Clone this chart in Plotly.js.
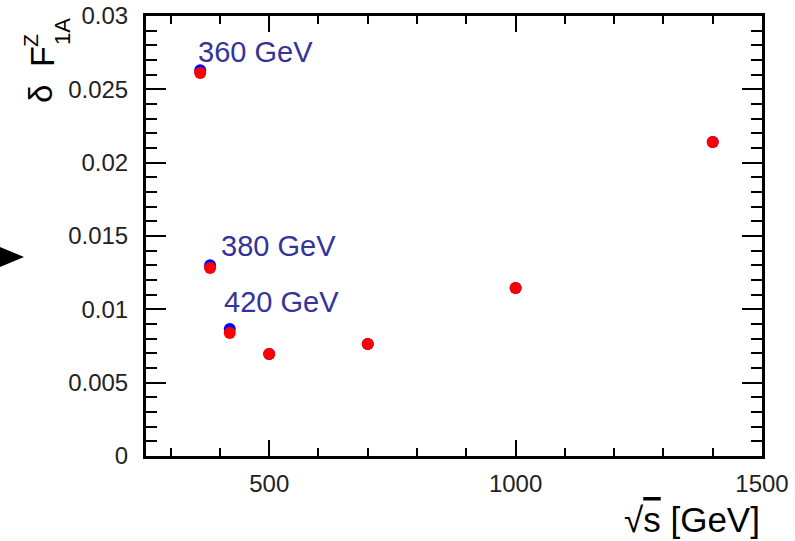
<!DOCTYPE html>
<html><head><meta charset="utf-8">
<script src="https://cdn.plot.ly/plotly-3.0.1.min.js"></script>
<style>html,body{margin:0;padding:0;background:#fff}</style>
</head><body>
<div id="chart" style="width:795px;height:541px"></div>
<script>
const energies = [360, 380, 420, 500, 700, 1000, 1400];
const blueVals = [0.0263, 0.0130, 0.00866, 0.00695, 0.00764, 0.01145, 0.02141];
const redVals  = [0.02611, 0.01282, 0.00839, 0.00695, 0.00764, 0.01145, 0.02141];
const labelTexts = ['360 GeV', '380 GeV', '420 GeV'];
const labelIdx = [0, 1, 2];
const labelShift = [[-4, 0], [9, 1], [-8, 9]];

const traces = [
  {x: energies, y: blueVals, mode: 'markers', type: 'scatter',
   marker: {color: '#0000ff', size: 12}, hoverinfo: 'skip'},
  {x: energies, y: redVals, mode: 'markers', type: 'scatter',
   marker: {color: '#ff0000', size: 12}, hoverinfo: 'skip'}
];

const ann = labelIdx.map((i, k) => ({
  x: energies[i], y: blueVals[i], xref: 'x', yref: 'y',
  text: labelTexts[k], showarrow: false, xanchor: 'left', yanchor: 'bottom',
  xshift: labelShift[k][0], yshift: labelShift[k][1],
  font: {family: 'Liberation Sans, Arial', size: 29, color: '#333399'}
}));

const W = 616, H = 440, L = 146, T = 16;
const px = v => (v - L) / W;
const py = v => (T + H - v) / H;
const titleFont = s => ({family: 'Liberation Sans, Arial', size: s, color: '#000'});
ann.push(
  {xref: 'paper', yref: 'paper', x: px(41), y: py(94), text: 'δ', textangle: -90,
   showarrow: false, xanchor: 'center', yanchor: 'middle', font: titleFont(33)},
  {xref: 'paper', yref: 'paper', x: px(42), y: py(57), text: 'F', textangle: -90,
   showarrow: false, xanchor: 'center', yanchor: 'middle', font: titleFont(34)},
  {xref: 'paper', yref: 'paper', x: px(31), y: py(41), text: 'Z', textangle: -90,
   showarrow: false, xanchor: 'center', yanchor: 'middle', font: titleFont(21)},
  {xref: 'paper', yref: 'paper', x: px(62), y: py(32), text: '1A', textangle: -90,
   showarrow: false, xanchor: 'center', yanchor: 'middle', font: titleFont(22)},
  {xref: 'paper', yref: 'paper', x: 1, y: 0, yshift: -42, text: '√<span style="text-decoration:overline">s</span> [GeV]',
   showarrow: false, xanchor: 'right', yanchor: 'top', font: titleFont(35)}
);

const layout = {
  width: 795, height: 541,
  margin: {l: L, r: 795 - L - W, t: T, b: 541 - T - H},
  paper_bgcolor: '#fff', plot_bgcolor: '#fff',
  showlegend: false,
  font: {family: 'Liberation Sans, Arial', size: 24, color: '#222'},
  xaxis: {range: [250, 1500], tickvals: [500, 1000, 1500], ticks: 'inside', ticklen: 16,
          tickwidth: 2, tickcolor: '#000', showline: true, linewidth: 3, linecolor: '#000',
          mirror: 'allticks', showgrid: false, zeroline: false, ticklabelstandoff: 4,
          minor: {dtick: 100, tick0: 0, ticks: 'inside', ticklen: 8, tickwidth: 2, tickcolor: '#000', showgrid: false},
          tickfont: {size: 24}},
  yaxis: {range: [0, 0.03], dtick: 0.005, ticks: 'inside', ticklen: 20, tickwidth: 2,
          tickcolor: '#000', showline: true, linewidth: 3, linecolor: '#000',
          mirror: 'allticks', showgrid: false, zeroline: false, ticklabelstandoff: 10,
          minor: {dtick: 0.001, ticks: 'inside', ticklen: 11, tickwidth: 2, tickcolor: '#000', showgrid: false},
          tickfont: {size: 24}},
  annotations: ann,
  shapes: [{type: 'path', xref: 'paper', yref: 'paper',
            path: `M ${px(0)} ${py(247)} L ${px(24)} ${py(257)} L ${px(0)} ${py(267)} Z`,
            fillcolor: '#000', line: {width: 0}}]
};

Plotly.newPlot('chart', traces, layout, {displayModeBar: false, staticPlot: true});
</script>
</body></html>
